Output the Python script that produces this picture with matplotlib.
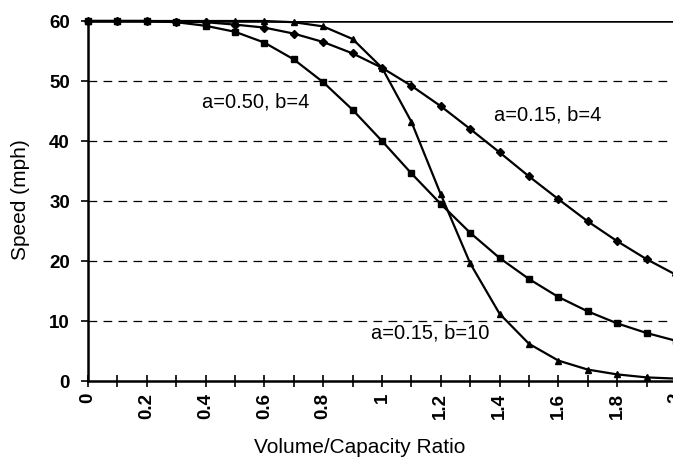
import matplotlib
matplotlib.use("Agg")
import matplotlib.pyplot as plt

plt.rcParams['font.family'] = ['Liberation Sans', 'DejaVu Sans']

# volume/capacity ratio
vc = [0.0, 0.1, 0.2, 0.3, 0.4, 0.5, 0.6, 0.7, 0.8, 0.9, 1.0,
      1.1, 1.2, 1.3, 1.4, 1.5, 1.6, 1.7, 1.8, 1.9, 2.0]

# speeds (mph)
speed_a015_b4 = [60.0, 60.0, 60.0, 59.9, 59.8, 59.4, 58.9, 57.9, 56.5, 54.6, 52.2,
                 49.2, 45.8, 42.0, 38.1, 34.1, 30.3, 26.6, 23.3, 20.3, 17.7]
speed_a050_b4 = [60.0, 60.0, 60.0, 59.8, 59.2, 58.2, 56.4, 53.6, 49.8, 45.2, 40.0,
                 34.6, 29.5, 24.7, 20.5, 17.0, 14.0, 11.6, 9.6, 8.0, 6.7]
speed_a015_b10 = [60.0, 60.0, 60.0, 60.0, 60.0, 60.0, 60.0, 59.8, 59.1, 57.0, 52.2,
                  43.2, 31.1, 19.6, 11.2, 6.2, 3.4, 1.9, 1.1, 0.6, 0.4]

xticks = [0, 0.2, 0.4, 0.6, 0.8, 1, 1.2, 1.4, 1.6, 1.8, 2]
xticklabels = ['0', '0.2', '0.4', '0.6', '0.8', '1', '1.2', '1.4', '1.6', '1.8', '2']
yticks = [0, 10, 20, 30, 40, 50, 60]

W, H = 673, 461
fig = plt.figure(figsize=(W / 100, H / 100), dpi=100)
ax = fig.add_axes([88 / W, 80 / H, 588 / W, 360 / H])

for y in [10, 20, 30, 40, 50]:
    ax.axhline(y, color='black', lw=0.9, dashes=(7, 5), zorder=1)
ax.axhline(60, color='black', lw=1.8, zorder=1)

ax.plot(vc, speed_a015_b4, color='black', lw=1.6, marker='D', ms=4, zorder=3, clip_on=False)
ax.plot(vc, speed_a050_b4, color='black', lw=1.6, marker='s', ms=4.5, zorder=3, clip_on=False)
ax.plot(vc, speed_a015_b10, color='black', lw=1.6, marker='^', ms=5, zorder=3, clip_on=False)

# curve labels, placed in pixel positions from the top-left
for txt, px, py in [('a=0.50, b=4', 256, 102),
                    ('a=0.15, b=4', 548, 115),
                    ('a=0.15, b=10', 430, 333)]:
    fig.text(px / W, 1 - py / H, txt, ha='center', va='center', fontsize=14.5)

ax.set_xlim(0, 2)
ax.set_ylim(0, 60)
ax.set_xticks(xticks)
ax.set_xticklabels(xticklabels, rotation=90, fontsize=13.5, fontweight='bold')
ax.set_xticks([0.1 * i for i in range(1, 20, 2)], minor=True)
ax.set_yticks(yticks)
ax.set_yticklabels([str(v) for v in yticks], fontsize=13.5, fontweight='bold')
ax.tick_params(axis='x', which='both', direction='inout', length=9, width=1.2, pad=4)
ax.tick_params(axis='y', direction='out', length=5, width=1.2, pad=8)

for side in ['top', 'right']:
    ax.spines[side].set_visible(False)
ax.spines['left'].set_linewidth(1.8)
ax.spines['bottom'].set_linewidth(1.8)

fig.text(360 / W, 1 - 447 / H, 'Volume/Capacity Ratio', ha='center', va='center', fontsize=15)
fig.text(21 / W, 1 - 200 / H, 'Speed (mph)', ha='center', va='center', rotation=90, fontsize=15)

fig.savefig('out.png', dpi=100)
